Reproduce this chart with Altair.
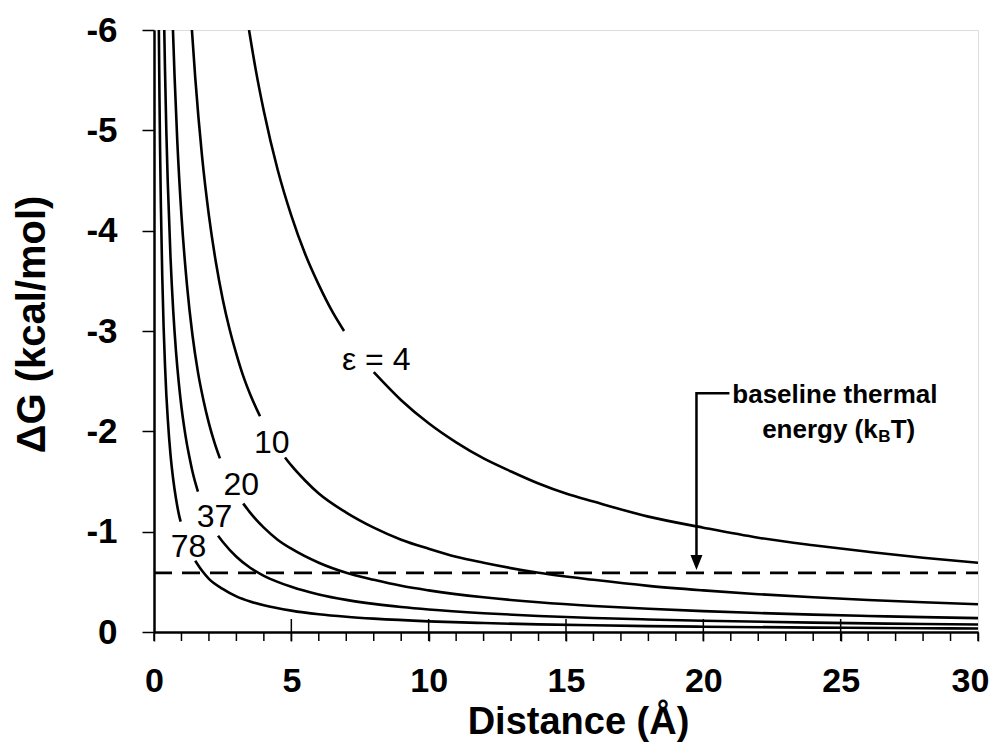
import altair as alt
import pandas as pd

FONT = "Liberation Sans, Arial, sans-serif"

# ---- curves (x = distance in Å, y = ΔG in kcal/mol) ----
eps_values = [4, 10, 20, 37, 78]

e4_x1 = [3.46, 3.7, 4.0, 4.5, 5.0, 5.5, 6.0, 6.5, 6.92]
e4_y1 = [-6.0, -5.61, -5.19, -4.61, -4.15, -3.77, -3.46, -3.19, -3.0]
e4_x2 = [8.0, 9, 10, 11, 12, 13, 14, 15, 16, 18, 20, 22, 24, 26, 28, 30]
e4_y2 = [-2.59, -2.31, -2.08, -1.89, -1.73, -1.60, -1.48, -1.38, -1.30, -1.15,
         -1.04, -0.94, -0.865, -0.80, -0.74, -0.69]

e10_x1 = [1.38, 1.5, 1.75, 2.0, 2.25, 2.5, 2.75, 3.0, 3.25, 3.5, 3.86]
e10_y1 = [-6.0, -5.53, -4.74, -4.15, -3.69, -3.32, -3.02, -2.77, -2.55, -2.37, -2.15]
e10_x2 = [4.77, 5, 5.5, 6, 7, 8, 9, 10, 11, 12, 14, 16, 18, 20, 22, 24, 26, 28, 30]
e10_y2 = [-1.74, -1.66, -1.51, -1.38, -1.19, -1.04, -0.92, -0.83, -0.75, -0.69,
          -0.59, -0.52, -0.46, -0.415, -0.377, -0.346, -0.319, -0.296, -0.277]

e20_x1 = [0.69, 0.75, 0.85, 1.0, 1.2, 1.4, 1.6, 1.8, 2.0, 2.2, 2.4]
e20_y1 = [-6.0, -5.53, -4.88, -4.15, -3.46, -2.96, -2.59, -2.31, -2.08, -1.89, -1.73]
e20_x2 = [3.25, 3.5, 4, 4.5, 5, 6, 7, 8, 9, 10, 12, 14, 16, 18, 20, 22, 24, 26, 28, 30]
e20_y2 = [-1.28, -1.19, -1.04, -0.92, -0.83, -0.69, -0.59, -0.52, -0.46, -0.415,
          -0.346, -0.296, -0.259, -0.231, -0.208, -0.189, -0.173, -0.160, -0.148, -0.138]

e37_x1 = [0.374, 0.4, 0.45, 0.5, 0.6, 0.7, 0.8, 0.9, 1.0, 1.1, 1.2, 1.3, 1.4, 1.6]
e37_y1 = [-6.0, -5.61, -4.98, -4.49, -3.74, -3.20, -2.80, -2.49, -2.24, -2.04,
          -1.87, -1.73, -1.60, -1.40]
e37_x2 = [2.33, 2.5, 3, 3.5, 4, 4.5, 5, 6, 7, 8, 9, 10, 12, 14, 16, 18, 20, 24, 28, 30]
e37_y2 = [-0.96, -0.90, -0.75, -0.64, -0.56, -0.50, -0.45, -0.374, -0.320, -0.280,
          -0.249, -0.224, -0.187, -0.160, -0.140, -0.125, -0.112, -0.093, -0.080, -0.075]

e78_x1 = [0.177, 0.19, 0.2, 0.22, 0.25, 0.3, 0.35, 0.4, 0.45, 0.5, 0.6, 0.7, 0.8, 0.9, 0.97]
e78_y1 = [-6.0, -5.60, -5.32, -4.84, -4.26, -3.55, -3.04, -2.66, -2.36, -2.13,
          -1.77, -1.52, -1.33, -1.18, -1.10]
e78_x2 = [1.5, 1.75, 2, 2.5, 3, 3.5, 4, 5, 6, 7, 8, 10, 12, 14, 16, 18, 20, 24, 28, 30]
e78_y2 = [-0.71, -0.61, -0.53, -0.43, -0.355, -0.304, -0.266, -0.213, -0.177, -0.152,
          -0.133, -0.106, -0.089, -0.076, -0.067, -0.059, -0.053, -0.044, -0.038, -0.035]

# curve labels
curve_label_text = ["ε = 4", "10", "20", "37", "78"]
curve_label_x = [8.09, 4.29, 3.18, 2.20, 1.26]
curve_label_y = [-2.71, -1.88, -1.466, -1.143, -0.844]

# thermal energy line
kt_value = [-0.59]
kt_x_start = [0]
kt_x_end = [30]

# annotation
leader_x = [20.95, 19.75, 19.75]
leader_y = [-2.38, -2.38, -0.76]
arrow_x = [19.75]
arrow_y = [-0.693]
note1_text = ["baseline thermal"]
note1_x = [24.79]
note1_y = [-2.283]
note2a_text = ["energy (k"]
note2a_x = [26.35]
note2b_text = ["B"]
note2b_x = [26.37]
note2b_y = [-1.897]
note2c_text = ["T)"]
note2c_x = [26.82]
note2_y = [-1.931]

x_label_values = [0, 5, 10, 15, 20, 25, 30]
x_minor_ticks = list(range(0, 31))
x_major_inside = [5, 10, 15, 20, 25]
y_tick_values = [-6, -5, -4, -3, -2, -1, 0]

# ---- build tables ----
rows = []
segs = {
    4: [(e4_x1, e4_y1), (e4_x2, e4_y2)],
    10: [(e10_x1, e10_y1), (e10_x2, e10_y2)],
    20: [(e20_x1, e20_y1), (e20_x2, e20_y2)],
    37: [(e37_x1, e37_y1), (e37_x2, e37_y2)],
    78: [(e78_x1, e78_y1), (e78_x2, e78_y2)],
}
for e in eps_values:
    for si, (xs, ys) in enumerate(segs[e]):
        for xv, yv in zip(xs, ys):
            rows.append({"eps": e, "seg": f"{e}-{si}", "x": xv, "y": yv})
curves = pd.DataFrame(rows)

labels_df = pd.DataFrame({"t": curve_label_text, "x": curve_label_x, "y": curve_label_y})
kt_df = pd.DataFrame({"y": kt_value, "x": kt_x_start, "x2": kt_x_end})
leader_df = pd.DataFrame({"x": leader_x, "y": leader_y, "o": list(range(len(leader_x)))})
arrow_df = pd.DataFrame({"x": arrow_x, "y": arrow_y})
major_df = pd.DataFrame({"x": x_major_inside})
minor_df = pd.DataFrame({"x": x_minor_ticks})

PLOT_W, PLOT_H = 824, 602

xscale = alt.Scale(domain=[0, 30], nice=False, zero=False)
yscale = alt.Scale(domain=[-6, 0], nice=False, reverse=True)

xaxis = alt.Axis(
    values=x_label_values,
    title="Distance (Å)",
    grid=False,
    domainColor="black", domainWidth=2.5,
    tickColor="black", tickWidth=1.5, tickSize=9,
    labelFont=FONT, labelFontSize=34, labelFontWeight="bold", labelColor="black",
    labelBaseline="alphabetic", labelPadding=50, labelFlush=False, labelOverlap=False,
    labelBound=False,
    labelOffset={"condition": {"test": "datum.value == 30", "value": -8}, "value": 0},
    titleFont=FONT, titleFontSize=38, titleFontWeight="bold", titleColor="black",
    titleX=424, titleY=101, titleBaseline="alphabetic", titleAlign="center",
)
yaxis = alt.Axis(
    values=y_tick_values,
    labelExpr="datum.value == 0 ? '0' : '-' + abs(datum.value)",
    title="ΔG (kcal/mol)",
    grid=False,
    domainColor="black", domainWidth=2.5,
    tickColor="black", tickWidth=1.5, tickSize=12,
    labelFont=FONT, labelFontSize=35, labelFontWeight="bold", labelColor="black",
    labelPadding=25, labelFlush=False, labelOverlap=False, labelBound=False,
    titleFont=FONT, titleFontSize=40, titleFontWeight="bold", titleColor="black",
    titleX=-122, titleY=294, titleAngle=-90, titleBaseline="middle", titleAlign="center",
)

base_lines = alt.Chart(curves).mark_line(
    color="black", strokeWidth=2.6, interpolate="monotone", clip=True
).encode(
    x=alt.X("x:Q", scale=xscale, axis=xaxis),
    y=alt.Y("y:Q", scale=yscale, axis=yaxis),
    detail="seg:N",
)

kt_rule = alt.Chart(kt_df).mark_rule(
    color="black", strokeWidth=2.8, strokeDash=[18, 10]
).encode(x="x:Q", x2="x2:Q", y="y:Q")

minor_ticks = alt.Chart(minor_df).mark_rule(color="black", strokeWidth=1.5).encode(
    x="x:Q", y=alt.value(PLOT_H), y2=alt.value(PLOT_H + 9)
)
major_ticks = alt.Chart(major_df).mark_rule(color="black", strokeWidth=1.5).encode(
    x="x:Q", y=alt.value(PLOT_H), y2=alt.value(PLOT_H - 13)
)

curve_labels = alt.Chart(labels_df).mark_text(
    font=FONT, fontSize=32, color="black", align="center", baseline="middle"
).encode(x="x:Q", y="y:Q", text="t:N")

leader = alt.Chart(leader_df).mark_line(
    color="black", strokeWidth=2.5, strokeJoin="miter"
).encode(x="x:Q", y="y:Q", order="o:Q")

arrow = alt.Chart(arrow_df).mark_point(
    shape="M-0.8,-1L0.8,-1L0,1Z", size=225, filled=True, color="black", opacity=1
).encode(x="x:Q", y="y:Q")

note1 = alt.Chart(pd.DataFrame({"t": note1_text, "x": note1_x, "y": note1_y})).mark_text(
    font=FONT, fontSize=26, fontWeight="bold", color="black", align="center", baseline="alphabetic"
).encode(x="x:Q", y="y:Q", text="t:N")
note2a = alt.Chart(pd.DataFrame({"t": note2a_text, "x": note2a_x, "y": note2_y})).mark_text(
    font=FONT, fontSize=26, fontWeight="bold", color="black", align="right", baseline="alphabetic"
).encode(x="x:Q", y="y:Q", text="t:N")
note2b = alt.Chart(pd.DataFrame({"t": note2b_text, "x": note2b_x, "y": note2b_y})).mark_text(
    font=FONT, fontSize=17, fontWeight="bold", color="black", align="left", baseline="alphabetic"
).encode(x="x:Q", y="y:Q", text="t:N")
note2c = alt.Chart(pd.DataFrame({"t": note2c_text, "x": note2c_x, "y": note2_y})).mark_text(
    font=FONT, fontSize=26, fontWeight="bold", color="black", align="left", baseline="alphabetic"
).encode(x="x:Q", y="y:Q", text="t:N")

chart = alt.layer(
    base_lines, kt_rule, minor_ticks, major_ticks, curve_labels, leader, arrow,
    note1, note2a, note2b, note2c
).properties(
    width=PLOT_W, height=PLOT_H,
    autosize=alt.AutoSizeParams(type="none"),
    padding={"left": 146, "top": 22, "right": 12, "bottom": 110},
).configure_view(
    stroke="#555", strokeWidth=1.5
).configure(background="white")

chart.save("out.html", embed_options={"renderer": "svg", "actions": False})
